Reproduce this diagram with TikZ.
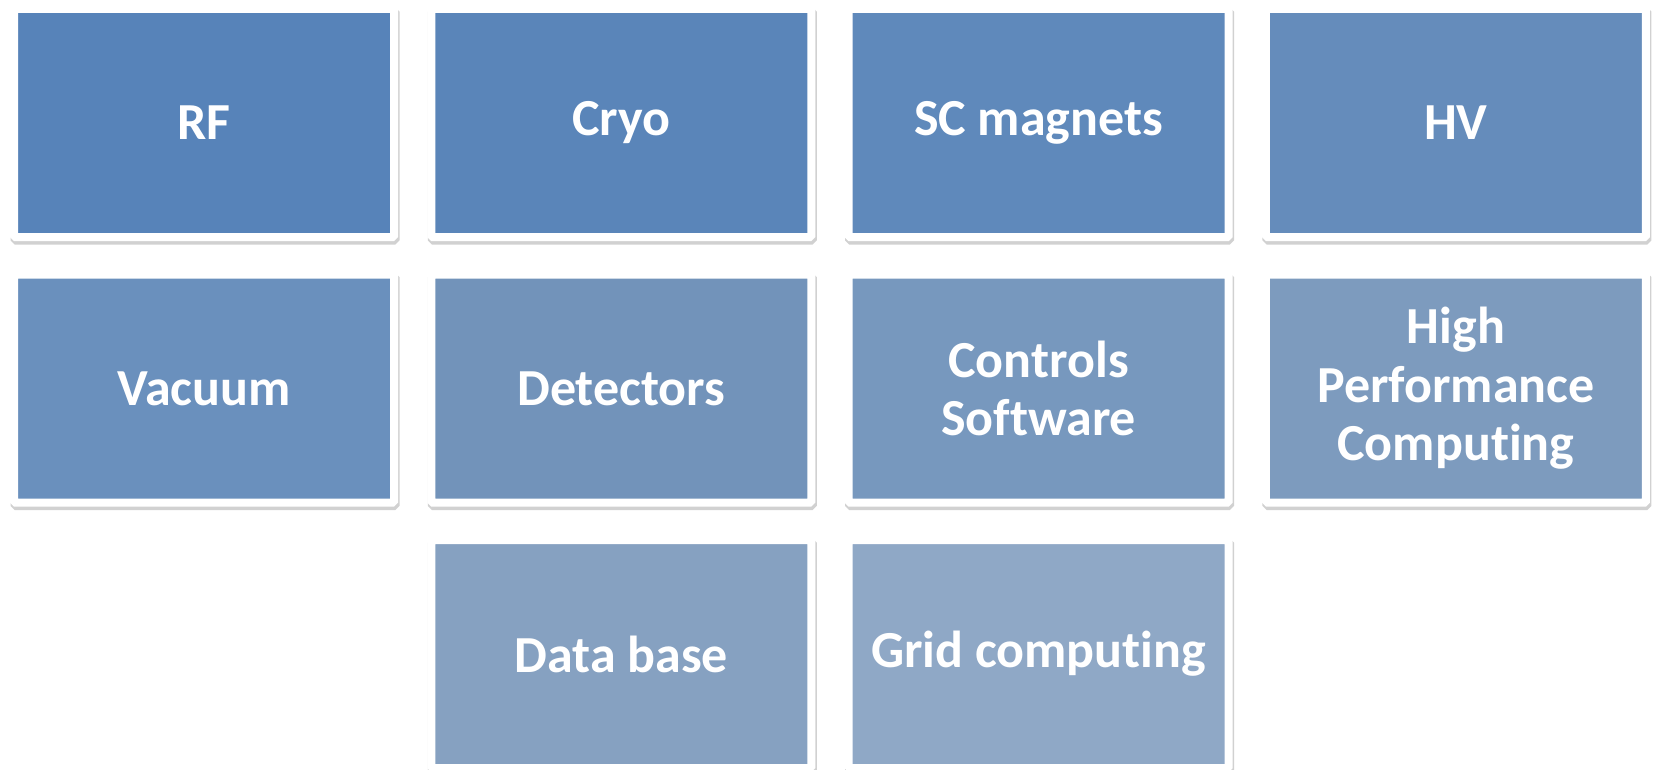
\documentclass[tikz,border=0pt]{standalone}
\usepackage{fontspec}
\setsansfont{Carlito}[Ligatures={NoCommon,NoRequired,NoContextual}, RawFeature={-liga;-clig;-dlig;-calt}]
\usetikzlibrary{positioning, shadows}

\definecolor{tileA}{RGB}{87,131,185}
\definecolor{tileB}{RGB}{90,133,185}
\definecolor{tileC}{RGB}{95,137,187}
\definecolor{tileD}{RGB}{101,140,187}
\definecolor{tileE}{RGB}{106,144,189}
\definecolor{tileF}{RGB}{114,147,186}
\definecolor{tileG}{RGB}{119,152,190}
\definecolor{tileH}{RGB}{125,155,190}
\definecolor{tileI}{RGB}{134,161,193}
\definecolor{tileJ}{RGB}{143,168,198}

\begin{document}
\begin{tikzpicture}[x=1pt, y=1pt, node distance=37.5pt and 37.3pt,
        tile/.style={rectangle, draw=white, line width=8pt, rounded corners=1.5pt,
            outer sep=0pt, minimum width=380pt, minimum height=228pt, align=center,
            text=white, font=\sffamily\bfseries\fontsize{52}{58.5}\selectfont,
            drop shadow={shadow xshift=1pt, shadow yshift=-3pt, draw=black,
                line width=9pt, opacity=0.18}}]

        \useasboundingbox (0,0) rectangle (1653,-770);
        \clip (0,0) rectangle (1653,-770);

        % first row
        \node[tile, fill=tileA] (rf) at (204,-123) {RF};
        \node[tile, fill=tileB, right=of rf] (cryo) {Cryo};
        \node[tile, fill=tileC, right=of cryo] (scmag) {SC magnets};
        \node[tile, fill=tileD, right=of scmag] (hv) {HV};

        % second row
        \node[tile, fill=tileE, below=of rf] (vacuum) {Vacuum};
        \node[tile, fill=tileF, right=of vacuum] (detectors) {Detectors};
        \node[tile, fill=tileG, right=of detectors] (controls) {Controls\\Software};
        \node[tile, fill=tileH, right=of controls] (hpc) {High\\Performance\\Computing};

        % third row
        \node[tile, fill=tileI, below=of detectors] (database) {Data base};
        \node[tile, fill=tileJ, below=of controls] (grid) {Grid computing};
    \end{tikzpicture}
\end{document}
